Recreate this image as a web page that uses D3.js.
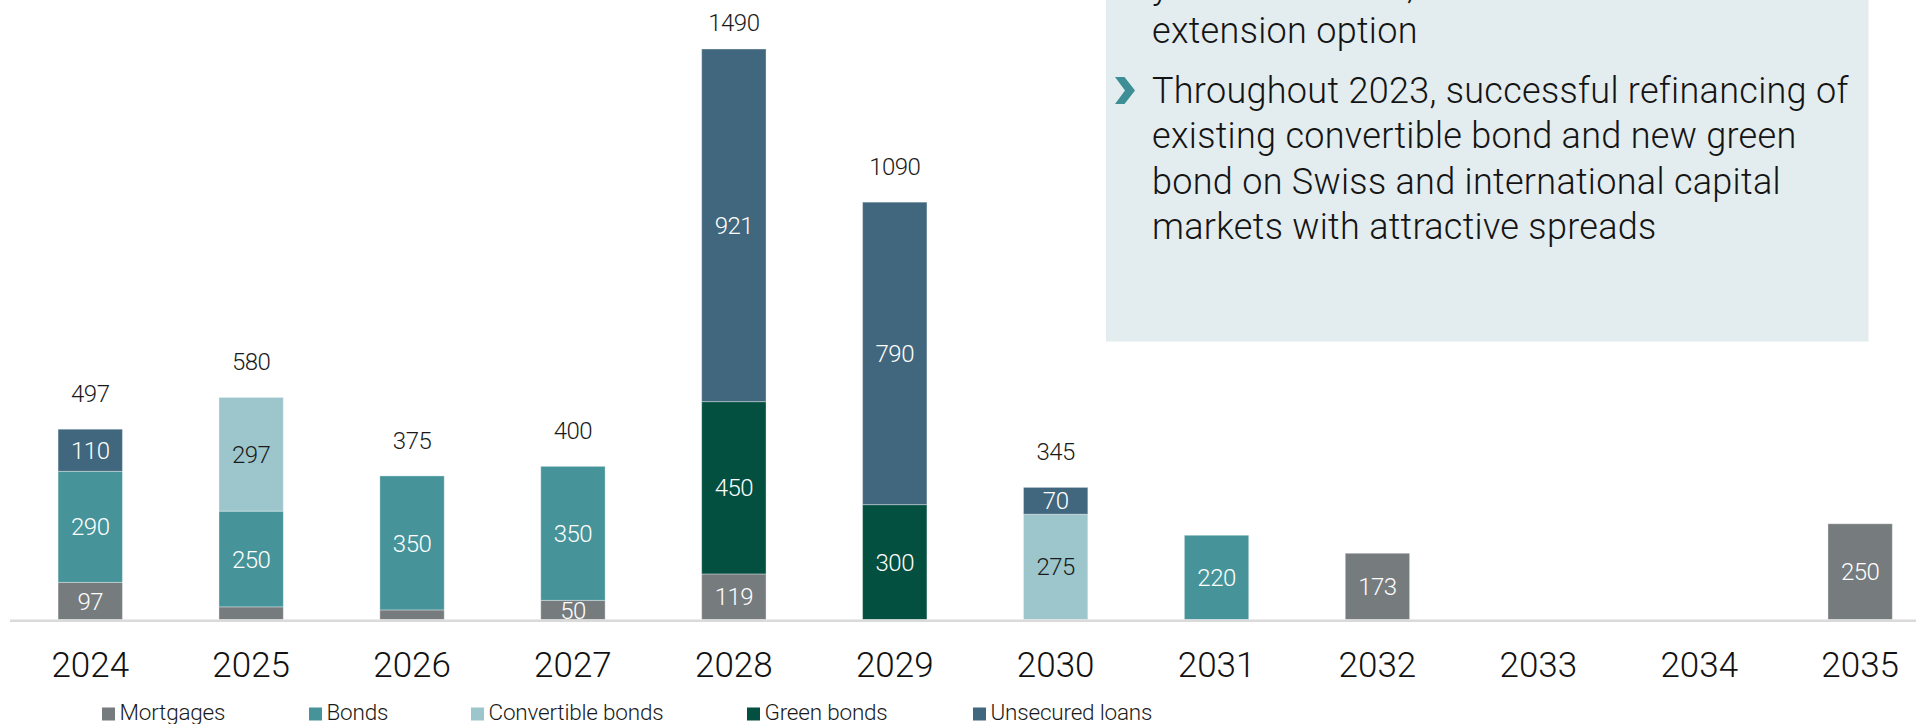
<!DOCTYPE html>
<html>
<head>
<meta charset="utf-8">
<script src="https://cdn.jsdelivr.net/npm/d3@7"></script>
<style>
  html, body { margin: 0; padding: 0; background: #ffffff; }
  svg { display: block; font-family: Roboto, "Open Sans", "Liberation Sans", sans-serif; }
</style>
</head>
<body>
<svg id="chart" width="1916" height="724"></svg>
<script>
// Maturity profile of financial liabilities (CHF m), by instrument
const years = ["2024", "2025", "2026", "2027", "2028", "2029", "2030", "2031", "2032", "2033", "2034", "2035"];
const mortgages        = [97, 33, 25, 50, 119,   0,   0,   0, 173, 0, 0, 250];
const bonds            = [290, 250, 350, 350, 0,  0,   0, 220,   0, 0, 0,   0];
const convertibleBonds = [0, 297,   0,   0,   0,   0, 275,  0,   0, 0, 0,   0];
const greenBonds       = [0,   0,   0,   0, 450, 300,   0,  0,   0, 0, 0,   0];
const unsecuredLoans   = [110, 0,   0,   0, 921, 790,  70,  0,   0, 0, 0,   0];

const seriesNames = ["Mortgages", "Bonds", "Convertible bonds", "Green bonds", "Unsecured loans"];
const seriesKeys  = ["mortgages", "bonds", "convertibleBonds", "greenBonds", "unsecuredLoans"];
const seriesColors = ["#767b7e", "#46949a", "#9dc6cc", "#034f40", "#41677e"];
const seriesLabelColors = ["#ffffff", "#ffffff", "#1a1a1a", "#ffffff", "#ffffff"];

const noteLines = [
  "years until 2028, with an",
  "extension option",
  "Throughout 2023, successful refinancing of",
  "existing convertible bond and new green",
  "bond on Swiss and international capital",
  "markets with attractive spreads"
];

// Build the rows for d3.stack
const rows = years.map((y, i) => ({
  year: y,
  mortgages: mortgages[i],
  bonds: bonds[i],
  convertibleBonds: convertibleBonds[i],
  greenBonds: greenBonds[i],
  unsecuredLoans: unsecuredLoans[i]
}));

const svg = d3.select("#chart");
const baseY = 619.5;
const topY = 49;

const x = d3.scaleBand()
  .domain(years)
  .range([9.8, 9.8 + 12 * 160.9])
  .paddingInner(0.6)
  .paddingOuter(0.3);

const y = d3.scaleLinear()
  .domain([0, 1490])
  .range([baseY, topY]);

const color = d3.scaleOrdinal().domain(seriesKeys).range(seriesColors);
const labelColor = d3.scaleOrdinal().domain(seriesKeys).range(seriesLabelColors);

const stacked = d3.stack().keys(seriesKeys)(rows);

// Text panel in the upper right
const panel = svg.append("g");
panel.append("rect")
  .attr("x", 1106).attr("y", -10)
  .attr("width", 762.5).attr("height", 351.5)
  .attr("fill", "#e3ecee");

const lineBaselines = [-2.5, 43, 103, 148.3, 193.5, 238.5];
panel.selectAll("text.note")
  .data(noteLines)
  .join("text")
  .attr("class", "note")
  .attr("x", 1152)
  .attr("y", (d, i) => lineBaselines[i])
  .attr("font-size", 36)
  .attr("font-weight", 300)
  .attr("letter-spacing", 0.3)
  .attr("fill", "#141414")
  .text(d => d);

// Chevron bullet
panel.append("path")
  .attr("d", "M1115,77 L1124.5,77 L1135,90.5 L1124.5,104 L1115,104 L1125,90.5 Z")
  .attr("fill", "#3e8e95");

// Stacked bars
const layers = svg.append("g").selectAll("g")
  .data(stacked)
  .join("g")
  .attr("fill", d => color(d.key));

layers.selectAll("rect")
  .data(d => d.map(s => ({ key: d.key, s })))
  .join("rect")
  .filter(d => d.s[1] - d.s[0] > 0)
  .attr("x", d => x(d.s.data.year))
  .attr("y", d => y(d.s[1]))
  .attr("width", x.bandwidth())
  .attr("height", d => y(d.s[0]) - y(d.s[1]))
  .attr("stroke", "rgba(255,255,255,0.35)")
  .attr("stroke-width", 1);

// Baseline
svg.append("line")
  .attr("x1", 10).attr("x2", 1916)
  .attr("y1", baseY + 1.2).attr("y2", baseY + 1.2)
  .attr("stroke", "#dadada")
  .attr("stroke-width", 2.5);

// Segment value labels
const segLabels = [];
stacked.forEach(layer => {
  layer.forEach(s => {
    const v = s[1] - s[0];
    if (v >= 50) segLabels.push({ key: layer.key, year: s.data.year, v, mid: (s[0] + s[1]) / 2 });
  });
});

svg.append("g").selectAll("text")
  .data(segLabels)
  .join("text")
  .attr("x", d => x(d.year) + x.bandwidth() / 2)
  .attr("y", d => y(d.mid))
  .attr("dy", "0.36em")
  .attr("text-anchor", "middle")
  .attr("font-size", 24)
  .attr("font-weight", 300)
  .attr("letter-spacing", -0.5)
  .attr("fill", d => labelColor(d.key))
  .text(d => d.v);

// Totals above bars made of several instruments
const totals = rows.map(r => ({
  year: r.year,
  total: d3.sum(seriesKeys, k => r[k]),
  parts: seriesKeys.filter(k => r[k] > 0).length
})).filter(d => d.parts > 1);

svg.append("g").selectAll("text")
  .data(totals)
  .join("text")
  .attr("x", d => x(d.year) + x.bandwidth() / 2)
  .attr("y", d => Math.max(y(d.total) - 36, 22))
  .attr("dy", "0.36em")
  .attr("text-anchor", "middle")
  .attr("font-size", 24)
  .attr("font-weight", 300)
  .attr("letter-spacing", -0.5)
  .attr("fill", "#1a1a1a")
  .text(d => d.total);

// Year axis
const axis = svg.append("g")
  .attr("transform", `translate(0,${baseY})`)
  .call(d3.axisBottom(x).tickSize(0).tickPadding(33));
axis.select(".domain").remove();
axis.selectAll("text")
  .attr("font-family", "Roboto, sans-serif")
  .attr("font-size", 35)
  .attr("font-weight", 300)
  .attr("fill", "#111111");

// Legend
const legendX = [102, 309, 471, 747, 973];
const legend = svg.append("g").selectAll("g")
  .data(seriesNames)
  .join("g")
  .attr("transform", (d, i) => `translate(${legendX[i]},707.5)`);
legend.append("rect")
  .attr("width", 13).attr("height", 13)
  .attr("fill", (d, i) => seriesColors[i]);
legend.append("text")
  .attr("x", 17.5)
  .attr("y", 12.5)
  .attr("font-size", 22.5)
  .attr("font-weight", 300)
  .attr("letter-spacing", -0.2)
  .attr("fill", "#1a1a1a")
  .text(d => d);
</script>
</body>
</html>
